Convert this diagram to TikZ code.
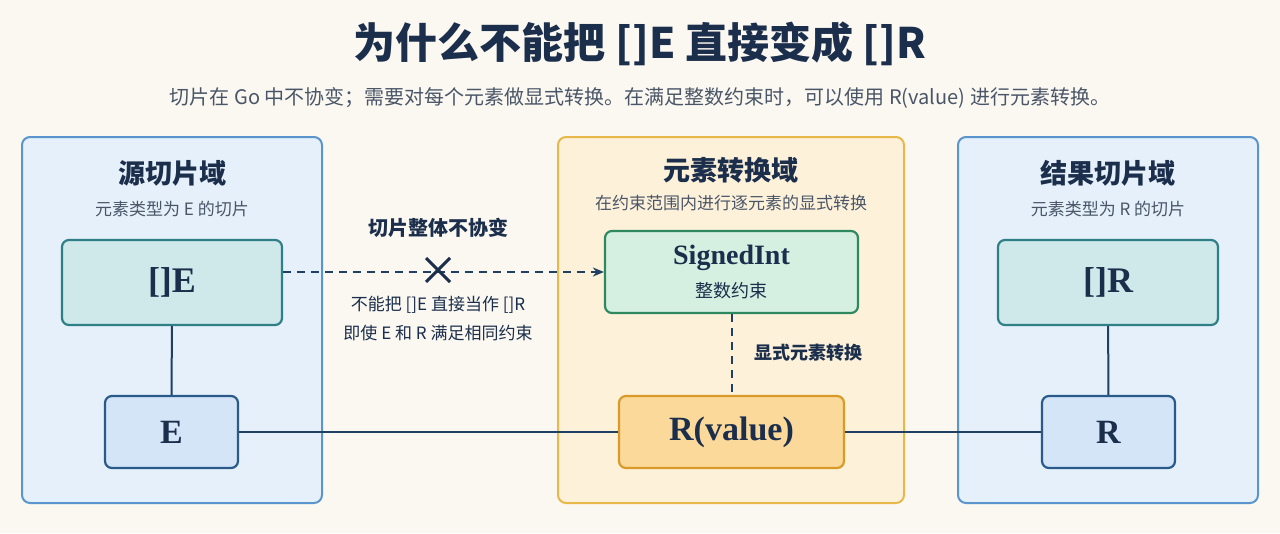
\documentclass[tikz,border=0pt]{standalone}
\usepackage{fontspec}
\setmainfont{Liberation Serif}
\newfontfamily\cjk{Noto Sans CJK SC}
\usetikzlibrary{arrows.meta}
\definecolor{bg}{HTML}{FBF8F1}
\definecolor{navy}{HTML}{1B2E4B}
\definecolor{gry}{HTML}{4A5668}
\definecolor{pbd}{HTML}{5B95CE}
\definecolor{pbf}{HTML}{E5F0FA}
\definecolor{pod}{HTML}{E8B84A}
\definecolor{pof}{HTML}{FDF1DA}
\definecolor{cn}{HTML}{1F3F63}
\definecolor{tld}{HTML}{2F7F86}
\definecolor{tlf}{HTML}{CFE8EA}
\definecolor{bld}{HTML}{2A5A8A}
\definecolor{blf}{HTML}{D3E5F7}
\definecolor{grd}{HTML}{2E8A5E}
\definecolor{grf}{HTML}{D5EFE0}
\definecolor{ord}{HTML}{D99A2A}
\definecolor{orf}{HTML}{FBD99A}
\tikzset{
 panelB/.style={draw=pbd,fill=pbf,rounded corners=8pt,line width=2pt},
 box/.style={rounded corners=7pt,line width=2.2pt,text=navy,font=\bfseries},
 conn/.style={draw=cn,line width=2pt},
}
\begin{document}
\begin{tikzpicture}[x=1pt,y=-1pt]
\fill[bg] (0,0) rectangle (1280,533);
\useasboundingbox (0,0) rectangle (1280,533);
\node[font=\cjk\bfseries\fontsize{42}{48}\selectfont,text=navy] (title) at (640,44) {为什么不能把 []E 直接变成 []R};
\node[font=\cjk\fontsize{20}{24}\selectfont,text=gry] (sub) at (640,98) {切片在 Go 中不协变；需要对每个元素做显式转换。在满足整数约束时，可以使用 R(value) 进行元素转换。};
\draw[panelB] (22,137) rectangle (322,503);
\draw[panelB] (958,137) rectangle (1258,503);
\draw[draw=pod,fill=pof,rounded corners=8pt,line width=2pt] (558,137) rectangle (904,503);
\node[font=\cjk\bfseries\fontsize{27}{32}\selectfont,text=navy] (lt) at (172,173) {源切片域};
\node[font=\cjk\fontsize{17}{20}\selectfont,text=gry] (ls) at (172,209) {元素类型为 E 的切片};
\node[box,draw=tld,fill=tlf,minimum width=220pt,minimum height=85pt,font=\bfseries\fontsize{36}{42}\selectfont] (sE) at (172,282.5) {[]E};
\node[box,draw=bld,fill=blf,minimum width=133pt,minimum height=72pt,font=\bfseries\fontsize{34}{40}\selectfont] (E) at (171.5,432) {E};
\node[font=\cjk\bfseries\fontsize{27}{32}\selectfont,text=navy] (mt) at (731,170) {元素转换域};
\node[font=\cjk\fontsize{17}{20}\selectfont,text=gry] (ms) at (731,203) {在约束范围内进行逐元素的显式转换};
\node[box,draw=grd,fill=grf,minimum width=253pt,minimum height=82pt] (si) at (731.5,272) {};
\node[font=\bfseries\fontsize{28}{32}\selectfont,text=navy] (sit) at (731.5,258) {SignedInt};
\node[font=\cjk\fontsize{18}{21}\selectfont,text=navy] (sic) at (731.5,291) {整数约束};
\node[box,draw=ord,fill=orf,minimum width=225pt,minimum height=72pt,font=\bfseries\fontsize{34}{40}\selectfont] (Rv) at (731.5,432) {R(value)};
\node[font=\cjk\bfseries\fontsize{27}{32}\selectfont,text=navy] (rt) at (1108,173) {结果切片域};
\node[font=\cjk\fontsize{17}{20}\selectfont,text=gry] (rs) at (1108,209) {元素类型为 R 的切片};
\node[box,draw=tld,fill=tlf,minimum width=220pt,minimum height=85pt,font=\bfseries\fontsize{36}{42}\selectfont] (sR) at (1108,282.5) {[]R};
\node[box,draw=bld,fill=blf,minimum width=133pt,minimum height=72pt,font=\bfseries\fontsize{34}{40}\selectfont] (R) at (1108.5,432) {R};
\draw[conn] (sE) -- (E);
\draw[conn] (sR) -- (R);
\draw[conn] (E) -- (Rv);
\draw[conn] (Rv) -- (R);
\draw[conn,dash pattern=on 8pt off 6pt] (si) -- (Rv);
\node[font=\cjk\bfseries\fontsize{18}{21}\selectfont,text=navy] (conv) at (808,353) {显式元素转换};
\coordinate (a1) at (sE.east |- 0,272);
\coordinate (a2) at (si.west |- 0,272);
\draw[conn,dash pattern=on 8pt off 6pt,-{Stealth[length=11pt,width=9pt]}] (a1) -- (a2);
\coordinate (x) at (438,270);
\draw[draw=navy,line width=3pt] ([shift={(-12,-12)}]x) -- ([shift={(12,12)}]x) ([shift={(-12,12)}]x) -- ([shift={(12,-12)}]x);
\node[font=\cjk\bfseries\fontsize{20}{24}\selectfont,text=navy] (nc) at (438,228) {切片整体不协变};
\node[font=\cjk\fontsize{17}{20}\selectfont,text=navy] (n1) at (438,305) {不能把 []E 直接当作 []R};
\node[font=\cjk\fontsize{17}{20}\selectfont,text=navy] (n2) at (438,333) {即使 E 和 R 满足相同约束};
\end{tikzpicture}
\end{document}
